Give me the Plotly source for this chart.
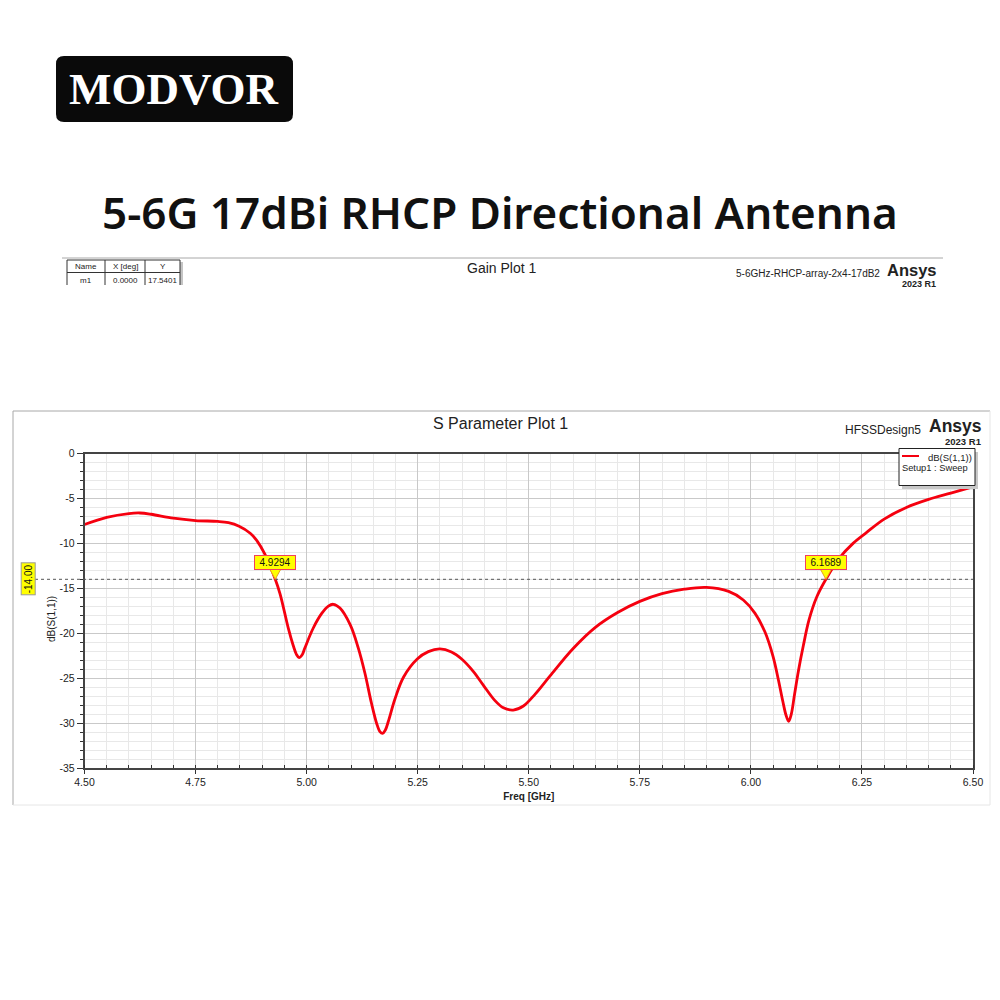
# S parameter plot with header, logo and the cut off gain plot strip
import plotly.graph_objects as go

freq = [4.50, 4.55, 4.60, 4.625, 4.65, 4.70, 4.75, 4.80, 4.824, 4.848, 4.873, 4.888, 4.906, 4.9294,
        4.94, 4.949, 4.959, 4.97, 4.977, 4.983, 4.99, 4.996, 5.015, 5.034, 5.049, 5.06, 5.075, 5.098, 5.116, 5.131,
        5.146, 5.158, 5.165, 5.171, 5.177, 5.184, 5.199, 5.218, 5.249, 5.274, 5.30, 5.326, 5.349, 5.375, 5.398, 5.424,
        5.443, 5.465, 5.488, 5.514, 5.548, 5.60, 5.65, 5.70, 5.75, 5.80, 5.85, 5.90, 5.95, 5.983, 6.009,
        6.032, 6.05, 6.062, 6.072, 6.079, 6.085, 6.091, 6.098, 6.107, 6.118, 6.131, 6.148, 6.1689, 6.20, 6.23, 6.26, 6.30,
        6.35, 6.40, 6.45, 6.50]
s11 = [-7.9, -7.1, -6.68, -6.62, -6.76, -7.2, -7.46, -7.56, -7.7, -8.09, -8.87, -9.69, -11.2, -14.0,
       -15.6, -17.4, -19.5, -21.4, -22.35, -22.72, -22.4, -21.65, -19.42, -17.8, -16.98, -16.78, -17.2, -19.05, -21.6, -24.4,
       -27.8, -30.1, -30.95, -31.15, -30.8, -29.8, -27.3, -24.9, -22.87, -22.05, -21.75, -22.09, -22.87, -24.24, -25.8, -27.5,
       -28.3, -28.55, -28.1, -26.8, -24.75, -21.7, -19.35, -17.7, -16.46, -15.6, -15.1, -14.9, -15.35, -16.3, -17.76,
       -19.9, -22.6, -25.2, -27.6, -29.1, -29.8, -29.0, -26.9, -24.2, -21.4, -18.5, -16.0, -14.0, -11.6, -10.0, -8.8, -7.3,
       -6.0, -5.1, -4.4, -3.7]

x_ticks = [4.50, 4.75, 5.00, 5.25, 5.50, 5.75, 6.00, 6.25, 6.50]
x_labels = ["4.50", "4.75", "5.00", "5.25", "5.50", "5.75", "6.00", "6.25", "6.50"]
y_ticks = [0, -5, -10, -15, -20, -25, -30, -35]
y_labels = ["0", "-5", "-10", "-15", "-20", "-25", "-30", "-35"]

marker_freqs = [4.9294, 6.1689]
marker_labels = ["4.9294", "6.1689"]
threshold = -14.0

table_header = ["Name", "X [deg]", "Y"]
table_row = ["m1", "0.0000", "17.5401"]

FONT = "Liberation Sans"


# picture pixels to paper coordinates
def px(x):
    return x / 1000


def py(y):
    return 1 - y / 1000


def add_text(fig, x, y, text, size, color="#222222", bold=False, font=FONT, angle=0, anchor="center", weight=None):
    if bold:
        text = f"<b>{text}</b>"
    style = dict(family=font, size=size, color=color)
    if weight:
        style["weight"] = weight
    fig.add_annotation(x=px(x), y=py(y), xref="paper", yref="paper", text=text, showarrow=False,
                       textangle=angle, xanchor=anchor, yanchor="middle", font=style)


def add_box(fig, x0, y0, x1, y1, fill=None, line=None, width=1, layer="above"):
    fig.add_shape(type="rect", xref="paper", yref="paper", x0=px(x0), x1=px(x1), y0=py(y0), y1=py(y1),
                  fillcolor=fill or "rgba(0,0,0,0)", line=dict(color=line or "rgba(0,0,0,0)", width=width),
                  layer=layer)


def add_line(fig, x0, y0, x1, y1, color, width=1, layer="above"):
    fig.add_shape(type="line", xref="paper", yref="paper", x0=px(x0), x1=px(x1), y0=py(y0), y1=py(y1),
                  line=dict(color=color, width=width), layer=layer)


fig = go.Figure()
fig.add_trace(go.Scatter(x=freq, y=s11, mode="lines", name="dB(S(1,1))",
                         line=dict(color="#f5000f", width=2.8, shape="spline", smoothing=1.0)))

fig.update_layout(
    width=1000, height=1000, margin=dict(l=0, r=0, t=0, b=0),
    paper_bgcolor="white", plot_bgcolor="white", showlegend=False,
    font=dict(family=FONT, size=10, color="#222222"),
    xaxis=dict(domain=[px(84.5), px(973)], range=[4.5, 6.5], tickvals=x_ticks, ticktext=x_labels, automargin=False,
               ticks="outside", ticklen=4, tickcolor="#333333", showgrid=True, gridcolor="#c9c9c9", gridwidth=1.2,
               showline=True, linecolor="#444444", linewidth=1.5, mirror=True, zeroline=False,
               tickfont=dict(size=10.5, color="#222222"),
               minor=dict(dtick=0.05, tick0=4.5, showgrid=True, gridcolor="#e8e8e8", gridwidth=1,
                          ticks="inside", ticklen=3, tickcolor="#333333"),
               title=dict(text="<b>Freq [GHz]</b>", standoff=6, font=dict(size=10, color="#222222"))),
    yaxis=dict(domain=[py(768), py(453.5)], range=[-35, 0], tickvals=y_ticks, ticktext=y_labels, automargin=False,
               ticks="outside", ticklen=6, tickcolor="#333333", showgrid=True, gridcolor="#c9c9c9", gridwidth=1.2,
               showline=True, linecolor="#444444", linewidth=1.5, mirror=True, zeroline=False,
               tickfont=dict(size=10.5, color="#222222"),
               minor=dict(dtick=1, tick0=0, showgrid=True, gridcolor="#e8e8e8", gridwidth=1,
                          ticks="outside", ticklen=3, tickcolor="#333333")),
)

# logo
fig.add_shape(type="path", xref="paper", yref="paper", fillcolor="#0a0a0a", line=dict(width=0), layer="below",
              path=f"M {px(64)},{py(56)} L {px(285)},{py(56)} Q {px(293)},{py(56)} {px(293)},{py(64)} "
                   f"L {px(293)},{py(114)} Q {px(293)},{py(122)} {px(285)},{py(122)} "
                   f"L {px(64)},{py(122)} Q {px(56)},{py(122)} {px(56)},{py(114)} "
                   f"L {px(56)},{py(64)} Q {px(56)},{py(56)} {px(64)},{py(56)} Z")
add_text(fig, 174, 89, "MODVOR", 45, color="white", bold=True, font="Liberation Serif")

# headline
add_text(fig, 500, 212, "5-6G 17dBi RHCP Directional Antenna", 44, color="#111111", font="Noto Sans", weight=600)

# gain plot strip
add_line(fig, 62, 258, 943, 258, "#a8a8a8")
add_box(fig, 180, 262, 183, 285, fill="#c4c4c4")
add_line(fig, 67, 260, 180, 260, "#333333")
add_line(fig, 67, 272.5, 180, 272.5, "#333333")
for col_x in [67, 105, 145, 180]:
    add_line(fig, col_x, 260, col_x, 285, "#333333")
for cx, head, cell in zip([86, 125, 162.5], table_header, table_row):
    add_text(fig, cx, 266.5, head, 8)
    add_text(fig, cx, 280, cell, 8)
add_text(fig, 501, 268, "Gain Plot 1", 14)
add_text(fig, 808, 273, "5-6GHz-RHCP-array-2x4-17dB2", 10)
add_text(fig, 912, 270, "Ansys", 16.5, bold=True)
add_text(fig, 918.5, 283.5, "2023 R1", 9, bold=True)

# frame of the s parameter plot
add_line(fig, 13, 411, 990, 411, "#a8a8a8")
add_line(fig, 13, 411, 13, 805, "#a8a8a8")
add_line(fig, 13, 805, 990, 805, "#e6e6e6")
add_line(fig, 990, 411, 990, 805, "#e6e6e6")
add_text(fig, 500, 424, "S Parameter Plot 1", 16)
add_text(fig, 882.5, 430, "HFSSDesign5", 12)
add_text(fig, 955, 426, "Ansys", 17.5, bold=True)
add_text(fig, 963, 441, "2023 R1", 9.5, bold=True)

# y axis title sits lower than the middle of the axis
add_text(fig, 51, 619, "dB(S(1,1))", 10, angle=-90)

# legend box
add_box(fig, 902, 452, 978, 489, fill="#c8c8c8")
add_box(fig, 899, 448.5, 975, 485.5, fill="white", line="#222222")
add_line(fig, 902, 456, 919, 456, "#f5000f", width=2)
add_text(fig, 974, 457, "dB(S(1,1))", 9.5, anchor="right")
add_text(fig, 900, 468, "Setup1 : Sweep", 9.3, anchor="left")

# limit line at -14 dB with its label
fig.add_shape(type="line", xref="paper", yref="y", x0=px(35), x1=px(973), y0=threshold, y1=threshold,
              line=dict(color="#555555", width=1, dash="dot"))
fig.add_annotation(x=px(28), y=threshold, xref="paper", yref="y", text=f"{threshold:.2f}", textangle=-90,
                   showarrow=False, bgcolor="#ffff00", bordercolor="#999999", borderwidth=1, borderpad=1,
                   xanchor="center", font=dict(size=10, color="#111111"))

# frequency markers where the curve crosses the limit
for mx, label in zip(marker_freqs, marker_labels):
    fig.add_shape(type="path", xref="x", yref="y", xsizemode="pixel", ysizemode="pixel",
                  xanchor=mx, yanchor=threshold, path="M -6,11 L 6,11 L 0,0 Z",
                  fillcolor="#ffff00", line=dict(color="#e8a020", width=1))
    fig.add_annotation(x=mx, y=threshold, text=label, showarrow=False, yshift=16.5, bgcolor="#ffff00",
                       bordercolor="#f04060", borderwidth=1, borderpad=1, width=38,
                       font=dict(size=10, color="#111111"))

# the page body has a default margin, drop it so the figure sits at the corner
fig.write_html("out.html", config=dict(displayModeBar=False), post_script="document.body.style.margin = '0';")
